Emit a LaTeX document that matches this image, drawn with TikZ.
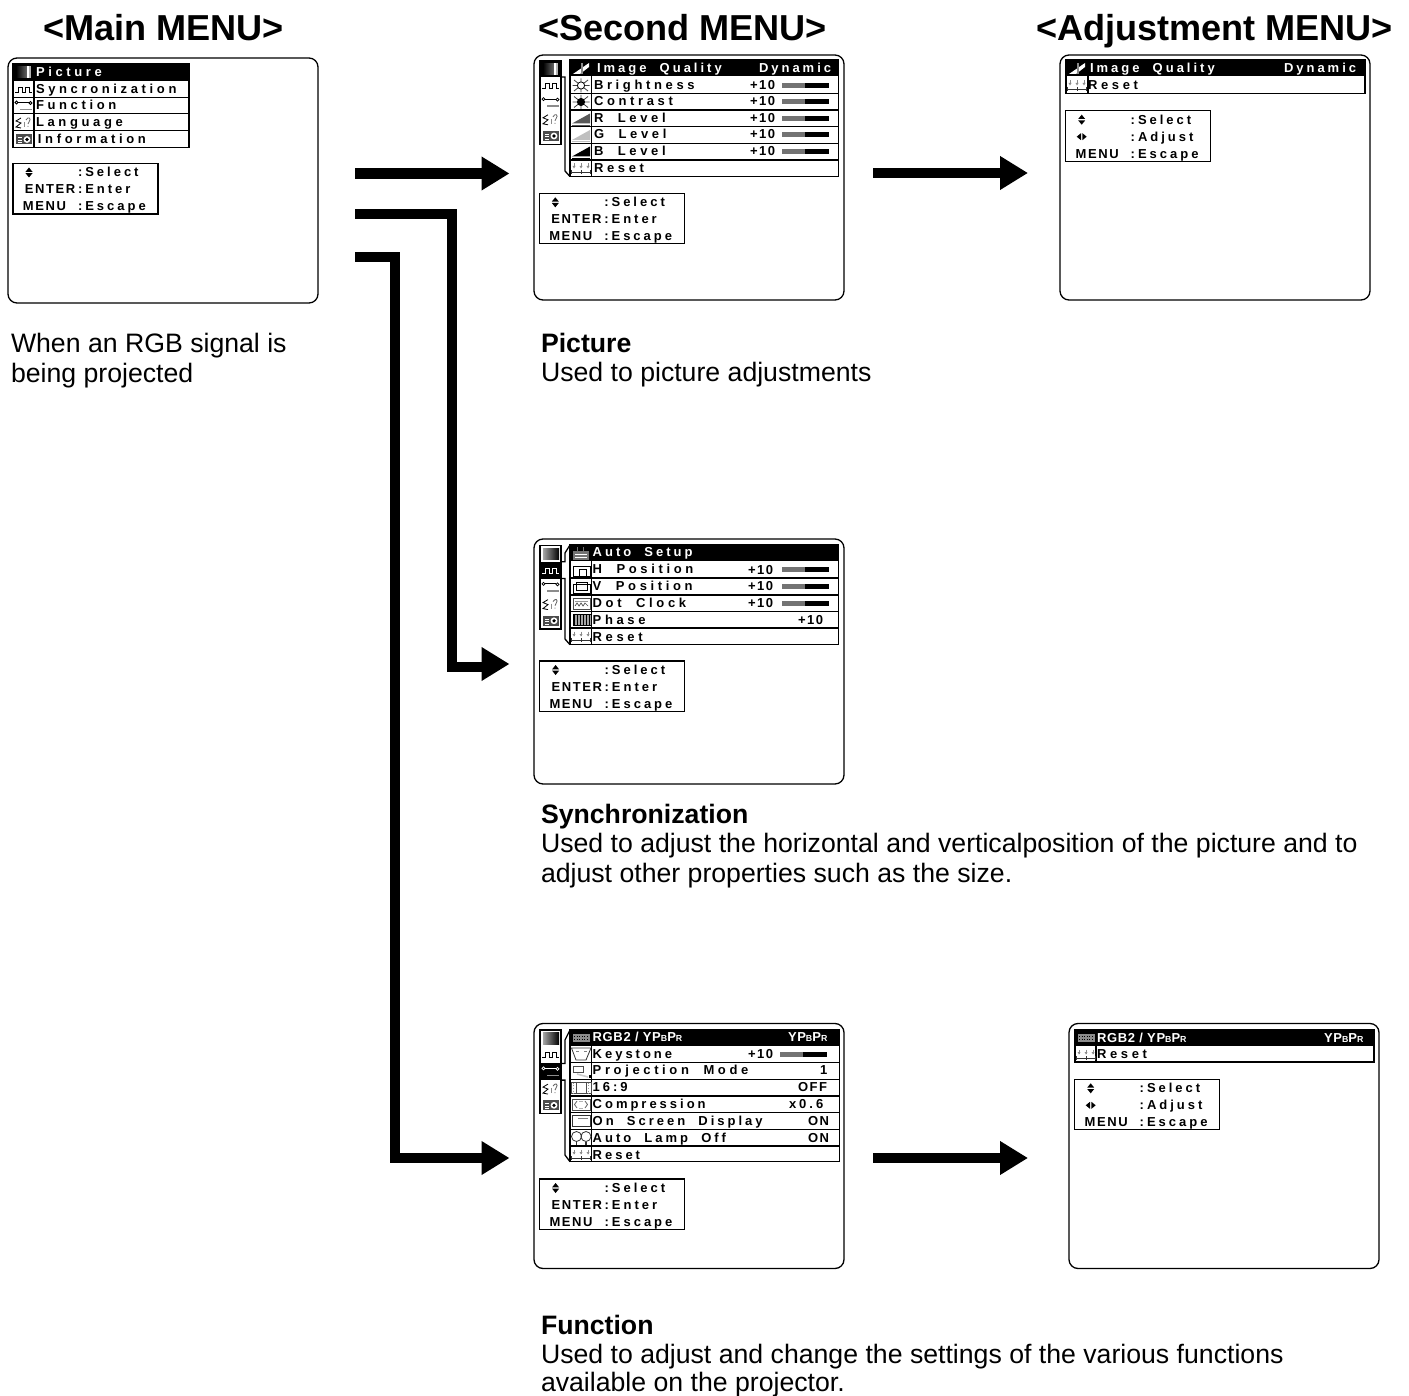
\documentclass[tikz,border=0pt]{standalone}
\usepackage{fontspec}
\setmainfont{Liberation Sans}
\usetikzlibrary{arrows.meta}
\newfontfamily\wideface[LetterSpace=28,WordSpace=2]{Liberation Sans}
\newfontfamily\midface[LetterSpace=23,WordSpace=2]{Liberation Sans}
\newfontfamily\tightface[LetterSpace=12]{Liberation Sans}
\newfontfamily\rgbface[LetterSpace=5]{Liberation Sans}
\newcommand\smll[1]{{\fontsize{4.4}{5}\selectfont #1}}
\newcount\tn
\tikzset{
  x=0.5pt,y=-0.5pt,
  screen/.style={draw=black,line width=0.65pt,rounded corners=4.5pt,minimum width=155pt,minimum height=122.5pt,inner sep=0pt,fill=white},
  rowline/.style={draw=black,line width=0.65pt},
  flow/.style={line width=5.25pt,draw=black,line join=miter,-{Triangle[length=14pt,width=16pt]}},
  flowbar/.style={line width=5.25pt,draw=black,line join=miter},
  txt/.style={anchor=base west,inner sep=0pt,outer sep=0pt},
  title/.style={txt,font=\bfseries\fontsize{18.05}{20}\selectfont},
  body/.style={txt,font=\fontsize{13.33}{15}\selectfont},
  bodyb/.style={txt,font=\bfseries\fontsize{13.33}{15}\selectfont},
  wide/.style={txt,font=\wideface\bfseries\fontsize{6.5}{7}\selectfont},
  mid/.style={txt,font=\midface\bfseries\fontsize{6.5}{7}\selectfont},
  tight/.style={txt,font=\tightface\bfseries\fontsize{6.5}{7}\selectfont},
  rgb/.style={txt,font=\rgbface\bfseries\fontsize{6.5}{7}\selectfont},
}
% text placed by its vertical centre
\newcommand\lab[4]{\global\advance\tn by 1
  \node[#1] (t\the\tn) at (#2,#3+4.5) {#4};}
\newcommand\slider[2]{\fill[black!55] (#1,#2-2.5) rectangle (#1+23,#2+2.5);
  \fill[black] (#1+23,#2-2.5) rectangle (#1+47,#2+2.5);}
% icons: x, y, colour
\newcommand\icPic[3]{\begin{scope}[shift={(#1,#2)}]
  \shade[left color=black!35,right color=#3] (3,2.5) rectangle (19,14);
  \end{scope}}
\newcommand\icPicS[2]{\begin{scope}[shift={(#1,#2)}]
  \shade[left color=black,right color=black!60] (3,2.5) rectangle (14,14);
  \fill[white] (14,2.5) rectangle (16,14);\fill[black!30] (16,2.5) rectangle (18,14);
  \end{scope}}
\newcommand\icWave[3]{\begin{scope}[shift={(#1,#2)}]
  \draw[#3,line width=.4pt] (2,11)--(5,11)--(5,6)--(9,6)--(9,11)--(12,11)--(12,6)--(16,6)--(16,11)--(19,11);
  \end{scope}}
\newcommand\icWrench[3]{\begin{scope}[shift={(#1,#2)}]
  \draw[#3,line width=.5pt] (5,5)--(16,5);
  \draw[#3,line width=.4pt] (3.5,5) circle (1.5) (17.5,5.5) circle (1.5);
  \draw[black!45,line width=.9pt] (7,12)--(19,12);
  \end{scope}}
\newcommand\icLang[3]{\begin{scope}[shift={(#1,#2)}]
  \draw[#3,line width=.4pt] (8,4)--(3,7)--(8,9)--(3,13)--(8,14);
  \draw[black!60,line width=.4pt] (13,6) .. controls (15,2) and (19,4) .. (16,8) -- (15,10) (15,12)--(15,13);
  \draw[black!45,line width=.4pt] (11,8)--(11,13);
  \end{scope}}
\newcommand\icCam[3]{\begin{scope}[shift={(#1,#2)}]
  \fill[black!70] (3,3.5) rectangle (19,13.5);
  \fill[white] (14,8.5) circle (3.4);\fill[black] (14,8.5) circle (1.8);
  \draw[white,line width=.3pt] (5,6.5)--(9,6.5) (5,9)--(9,9) (5,11.5)--(9,11.5);
  \end{scope}}
\newcommand\icQual[3]{\begin{scope}[shift={(#1,#2)}]
  \fill[black] (2,2) rectangle (20,15);
  \fill[white] (3,14) -- (19,3) -- (19,7) -- (10,14) -- cycle;
  \fill[black!45] (11,3) rectangle (12.5,14);
  \end{scope}}
\newcommand\icSun[3]{\begin{scope}[shift={(#1,#2)}]
  \draw[black!75,line width=.4pt] (4,3)--(18,14) (18,3)--(4,14) (11,1.5)--(11,15.5) (2.5,8.5)--(19.5,8.5);
  \fill[#3] (11,8.5) circle (3.6);\draw[black,line width=.4pt] (11,8.5) circle (3.6);
  \end{scope}}
\newcommand\icLevel[3]{\begin{scope}[shift={(#1,#2)}]
  \fill[#3] (2,13) -- (20,3) -- (20,13) -- cycle;
  \draw[#3,line width=.5pt] (2,15)--(20,15);
  \end{scope}}
\newcommand\icReset[2]{\begin{scope}[shift={(#1,#2)}]
  \draw[black!80,line width=.35pt] (1,12)--(21,12) (1.5,10)--(1.5,14) (11,10)--(11,14) (20.5,10)--(20.5,14);
  \draw[black!45,line width=.35pt] (4,3.5)--(4,7.5) (11,3.5)--(11,7.5) (18,3.5)--(18,7.5);
  \fill[black!45] (2.5,6) -- (5.5,6) -- (4,8.5) -- cycle (9.5,6) -- (12.5,6) -- (11,8.5) -- cycle (16.5,6) -- (19.5,6) -- (18,8.5) -- cycle;
  \end{scope}}
\newcommand\icAuto[2]{\begin{scope}[shift={(#1,#2)}]
  \fill[black!55] (3,6) rectangle (19,15);
  \draw[white,line width=.3pt] (5,9)--(17,9) (5,12)--(17,12);
  \draw[black!55,line width=.5pt] (7,6)--(7,2) (13,6)--(13,2);
  \end{scope}}
\newcommand\icHpos[2]{\begin{scope}[shift={(#1,#2)}]
  \draw[black,line width=.4pt] (3,5) rectangle (20,15);\draw[black,line width=.4pt] (9,7.5) rectangle (16,15);
  \end{scope}}
\newcommand\icVpos[2]{\begin{scope}[shift={(#1,#2)}]
  \draw[black,line width=.4pt] (3,6) rectangle (20,15);\draw[black,line width=.4pt] (6,3.5) rectangle (17,12);
  \end{scope}}
\newcommand\icDot[2]{\begin{scope}[shift={(#1,#2)}]
  \draw[black!70,line width=.4pt] (3,3) rectangle (20,14);
  \draw[black!70,line width=.35pt] (5,11)--(7,8)--(9,11)--(11,8)--(13,11)--(15,8)--(18,11);
  \draw[black!40,line width=.35pt] (5,6)--(18,6);
  \end{scope}}
\newcommand\icPhase[2]{\begin{scope}[shift={(#1,#2)}]
  \fill[black!35] (3,3) rectangle (21,14);
  \foreach \k in {4,7,10,13,16,19} {\draw[black,line width=.35pt] (\k,3)--(\k,14);}
  \draw[black,line width=.4pt] (3,3) rectangle (21,14);
  \end{scope}}
\newcommand\icRgb[3]{\begin{scope}[shift={(#1,#2)}]
  \fill[#3] (3,4.5) rectangle (20,12);
  \draw[black,line width=.3pt,densely dotted] (4,6.5)--(19,6.5) (4,9.5)--(19,9.5);
  \end{scope}}
\newcommand\icKey[2]{\begin{scope}[shift={(#1,#2)}]
  \draw[black!80,line width=.4pt] (1.5,2) -- (21,2) -- (16,14) -- (6,14) -- cycle;
  \draw[black!50,line width=.3pt] (6,5.5)--(9,5.5) (14,5.5)--(17,5.5);
  \end{scope}}
\newcommand\icProj[2]{\begin{scope}[shift={(#1,#2)}]
  \draw[black!70,line width=.4pt] (3,3) rectangle (13,9);
  \draw[black!20,line width=.8pt] (7,11)--(18,14);
  \fill[black] (19,12) rectangle (21,15);
  \end{scope}}
\newcommand\icWide[2]{\begin{scope}[shift={(#1,#2)}]
  \draw[black!70,line width=.4pt] (1,3) rectangle (21,14) (6,3)--(6,14) (16,3)--(16,14);
  \draw[black!40,line width=.35pt,densely dotted] (3.5,3)--(3.5,14) (18.5,3)--(18.5,14);
  \end{scope}}
\newcommand\icComp[2]{\begin{scope}[shift={(#1,#2)}]
  \draw[black!70,line width=.4pt] (2,3) rectangle (20,14);
  \draw[black!60,line width=.4pt] (7,5) -- (4.5,8.5) -- (7,12) (15,5) -- (17.5,8.5) -- (15,12);
  \draw[black!30,line width=.4pt] (9,5)--(13,5) (9,12)--(13,12);
  \end{scope}}
\newcommand\icOsd[2]{\begin{scope}[shift={(#1,#2)}]
  \draw[black!80,line width=.45pt] (2,3) rectangle (20,14);
  \draw[black!50,line width=.4pt] (8,5.5)--(18,5.5);
  \end{scope}}
\newcommand\icLamp[2]{\begin{scope}[shift={(#1,#2)}]
  \draw[black!80,line width=.4pt] (6.5,7) circle (5) (16,7) circle (5);
  \draw[black!80,line width=.6pt] (6.5,12)--(6.5,15) (16,12)--(16,15);
  \end{scope}}
% left icon column: y of top, index selected
\newcommand\leftcol[2]{%
  \draw[rowline] (540,#1) rectangle (561,#1+83.5);
  \ifnum#2=1 \fill[black] (540,#1) rectangle (561,#1+16.7);\icPicS{540}{#1}\else\icPic{540}{#1}{black}\fi
  \ifnum#2=2 \fill[black] (540,#1+16.7) rectangle (561,#1+33.4);\icWave{540}{#1+16.7}{white}\else\icWave{540}{#1+16.7}{black}\fi
  \ifnum#2=3 \fill[black] (540,#1+33.4) rectangle (561,#1+50.1);\icWrench{540}{#1+33.4}{white}\else\icWrench{540}{#1+33.4}{black}\fi
  \icLang{540}{#1+50.1}{black}
  \icCam{540}{#1+66.8}{black}}
% hint box: x, y, second line kind (0 enter, 1 adjust)
\newcommand\hint[3]{%
  \draw[rowline] (#1,#2) rectangle (#1+145,#2+50.5);
  \fill[black] (#1+16,#2+4) -- (#1+19.5,#2+8.3) -- (#1+12.5,#2+8.3) -- cycle
               (#1+16,#2+14) -- (#1+19.5,#2+9.7) -- (#1+12.5,#2+9.7) -- cycle;
  \lab{mid}{#1+65}{#2+9}{:Select}
  \ifnum#3=0
    \lab{tight}{#1+12}{#2+26}{ENTER}
    \lab{mid}{#1+65}{#2+26}{:Enter}
  \else
    \fill[black] (#1+11,#2+26) -- (#1+15.3,#2+22.5) -- (#1+15.3,#2+29.5) -- cycle
                 (#1+21,#2+26) -- (#1+16.7,#2+22.5) -- (#1+16.7,#2+29.5) -- cycle;
    \lab{mid}{#1+65}{#2+26}{:Adjust}
  \fi
  \lab{tight}{#1+10}{#2+43}{MENU}
  \lab{mid}{#1+65}{#2+43}{:Escape}}
% frame of rows: x0, xdiv, x1, ytop, y black end, ybottom, list of inner lines
\newcommand\rows[7]{%
  \draw[rowline] (#1,#4) rectangle (#3,#6);
  \fill[black] (#1,#4) rectangle (#3,#5);
  \draw[rowline] (#2,#5) -- (#2,#6);
  \foreach \yy in {#7} {\draw[rowline] (#1,\yy) -- (#3,\yy);}}
\begin{document}
\begin{tikzpicture}
\useasboundingbox (0,0) rectangle (1409,1396);
% titles
\node[title] (tmain) at (43,41) {<Main MENU>};
\node[title] (tsecond) at (538,41) {<Second MENU>};
\node[title] (tadjust) at (1036,41) {<Adjustment MENU>};
% screens
\node[screen] (main) at (163,180.5) {};
\node[screen] (picture) at (689,177.5) {};
\node[screen] (adjust) at (1215,177.5) {};
\node[screen] (sync) at (689,661.5) {};
\node[screen] (func) at (689,1146) {};
\node[screen] (funcadj) at (1224,1146) {};
% main menu
\rows{13}{34}{189}{63.5}{80.7}{147.5}{97.3,113.5,130.7}
\draw[line width=.9pt] (13,113.5) -- (189,113.5);
\icPicS{13}{64}
\icWave{13}{81}{black}\icWrench{13}{97.5}{black}\icLang{13}{114}{black}\icCam{13}{131}{black}
\lab{wide,text=white}{36}{72}{Picture}
\lab{wide}{36}{89}{Syncronization}
\lab{wide}{36}{105.5}{Function}
\lab{wide}{36}{122.5}{Language}
\lab{wide}{38}{139.5}{Information}
\hint{13}{163.5}{0}
\node[body] (mn1) at (11,352) {When an RGB signal is};
\node[body] (mn2) at (11,382) {being projected};
% picture menu
\leftcol{60.7}{1}
\draw[rowline] (561,77) -- (565,77) -- (565,171) -- (570,176.5);
\rows{570}{591.7}{838.5}{60}{76.5}{176.7}{93.3,110,126.7,143.3,160}
\icQual{570}{60}{black}\icSun{570}{77}{white}\icSun{570}{93.5}{black}
\icLevel{570}{110.5}{black!65}\icLevel{570}{127}{black!25}\icLevel{570}{143.5}{black}\icReset{570}{160}
\lab{mid,text=white}{597}{68}{Image Quality}
\lab{mid,text=white}{759}{68}{Dynamic}
\lab{wide}{594}{85}{Brightness}
\lab{wide}{594}{101.5}{Contrast}
\lab{wide}{594}{118}{R Level}
\lab{wide}{594}{134.5}{G Level}
\lab{wide}{594}{151.5}{B Level}
\lab{wide}{594}{168.5}{Reset}
\foreach \yy in {85,101.5,118,134.5,151.5} {\lab{tight}{750}{\yy}{+10}\slider{782}{\yy+0.5}}
\hint{539.3}{193.3}{0}
\node[bodyb] (p1) at (541,352) {Picture};
\node[body] (p2) at (541,381) {Used to picture adjustments};
% adjustment menu
\rows{1066}{1088}{1365}{60}{76.5}{93.5}{}
\icQual{1066}{60}{black}\icReset{1066}{77}
\lab{mid,text=white}{1090}{68}{Image Quality}
\lab{mid,text=white}{1284}{68}{Dynamic}
\lab{wide}{1088}{85.5}{Reset}
\hint{1065.7}{110.7}{1}
% synchronization menu
\leftcol{545.5}{2}
\draw[rowline] (561,561.7) -- (565,561.7) -- (565,553) -- (570,545);
\draw[rowline] (561,578.4) -- (565,578.4) -- (565,639) -- (570,644.7);
\rows{570}{591.7}{838.5}{544.3}{561}{644.7}{578,595,611.7,628}
\icAuto{570}{545}\icHpos{570}{561.5}\icVpos{570}{578.5}\icDot{570}{595}\icPhase{570}{611.5}\icReset{570}{628}
\lab{mid,text=white}{592.7}{552}{Auto Setup}
\lab{wide}{592.7}{568.5}{H Position}
\lab{wide}{592.7}{585.5}{V Position}
\lab{wide}{592.7}{602.5}{Dot Clock}
\lab{wide}{592.7}{619.5}{Phase}
\lab{wide}{592.7}{636.5}{Reset}
\foreach \yy in {569.5,586,603} {\lab{tight}{748}{\yy}{+10}\slider{782}{\yy}}
\lab{tight}{798}{620}{+10}
\hint{539.6}{661}{0}
\node[bodyb] (s1) at (541,823) {Synchronization};
\node[body] (s2) at (541,852) {Used to adjust the horizontal and verticalposition of the picture and to};
\node[body] (s3) at (541,882) {adjust other properties such as the size.};
% function menu
\leftcol{1030}{3}
\draw[rowline] (561,1063.4) -- (565,1063.4) -- (565,1040) -- (570,1030);
\draw[rowline] (561,1080.1) -- (565,1080.1) -- (565,1155) -- (570,1161.7);
\rows{570}{591.7}{839.5}{1029.3}{1046}{1161.7}{1062.5,1079.3,1096,1112.7,1129.3,1146}
\icRgb{570}{1029.5}{black!45}\icKey{570}{1046}\icProj{570}{1063}\icWide{570}{1079.5}\icComp{570}{1096}\icOsd{570}{1112.8}\icLamp{570}{1129.5}\icReset{570}{1146}
\lab{rgb,text=white}{592.7}{1037}{RGB2 / YP\smll{B}P\smll{R}}
\lab{rgb,text=white}{788}{1037}{YP\smll{B}P\smll{R}}
\lab{mid}{592.7}{1053.5}{Keystone}
\lab{wide}{592.7}{1070}{Projection Mode}
\lab{mid}{592.7}{1087}{16:9}
\lab{mid}{592.7}{1103.5}{Compression}
\lab{mid}{592.7}{1120.5}{On Screen Display}
\lab{mid}{592.7}{1137.5}{Auto Lamp Off}
\lab{mid}{592.7}{1154.5}{Reset}
\lab{tight}{748}{1053.5}{+10}\slider{780}{1054}
\lab{wide}{820}{1070}{1}
\lab{tight}{798}{1087}{OFF}
\lab{mid}{789}{1103.5}{x0.6}
\lab{tight}{808}{1120.5}{ON}
\lab{tight}{808}{1137.5}{ON}
\hint{539.6}{1179}{0}
\node[bodyb] (f1) at (541,1334) {Function};
\node[body] (f2) at (541,1363) {Used to adjust and change the settings of the various functions};
\node[body] (f3) at (541,1391) {available on the projector.};
% function adjustment menu
\rows{1075}{1096}{1374}{1029.5}{1046}{1062}{}
\icRgb{1075}{1029.5}{black!45}\icReset{1075}{1046}
\lab{rgb,text=white}{1097}{1037.5}{RGB2 / YP\smll{B}P\smll{R}}
\lab{rgb,text=white}{1324}{1037.5}{YP\smll{B}P\smll{R}}
\lab{wide}{1097}{1053.5}{Reset}
\hint{1074.7}{1079.3}{1}
% connectors
\coordinate (a1s) at (355,173.5);\coordinate (a1e) at (509.5,173.5);
\coordinate (a2s) at (355,214);\coordinate (a2c) at (452,214);\coordinate (a2d) at (452,667);\coordinate (a2b) at (482,667);
\coordinate (a2h) at (482,664);\coordinate (a2e) at (509.5,664);
\coordinate (a3s) at (355,257);\coordinate (a3c) at (395,257);\coordinate (a3d) at (395,1158);\coordinate (a3e) at (509.5,1158);
\coordinate (a4s) at (873,173);\coordinate (a4e) at (1028,173);
\coordinate (a5s) at (873,1158);\coordinate (a5e) at (1028,1158);
\draw[flow] (a1s) -- (a1e);
\draw[flowbar] (a2s) -- (a2c) -- (a2d) -- (a2b);
\draw[flow] (a2h) -- (a2e);
\draw[flow] (a3s) -- (a3c) -- (a3d) -- (a3e);
\draw[flow] (a4s) -- (a4e);
\draw[flow] (a5s) -- (a5e);
\end{tikzpicture}
\end{document}
